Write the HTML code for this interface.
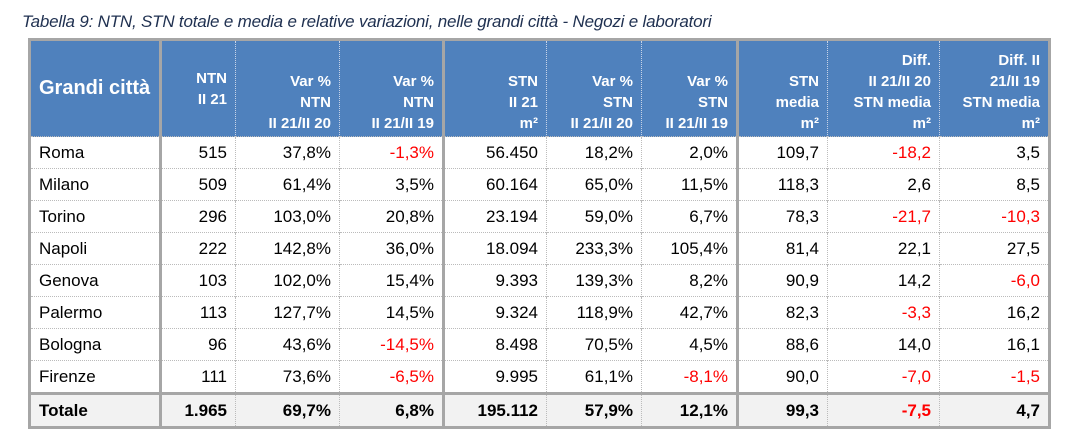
<!DOCTYPE html>
<html><head><meta charset="utf-8"><style>
body{margin:0;width:1078px;height:447px;background:#fff;font-family:"Liberation Sans",sans-serif;overflow:hidden;position:relative}
.t{position:absolute;left:22px;top:12px;font-style:italic;font-size:17px;color:#1f3050;letter-spacing:-0.2px}
table{position:absolute;left:28px;top:38px;border-collapse:collapse;table-layout:fixed;border:3px solid #a6a6a6}
td,th{padding:0 8px 0 4px;text-align:right;font-size:17px;color:#000;white-space:nowrap}
th{background:#4f81bd;color:#fff;font-weight:bold;font-size:15px;line-height:21px;height:93px;border-left:1px dotted #c8d4e8;vertical-align:middle;padding-top:0;padding-bottom:0}
th.b{vertical-align:bottom;padding-bottom:2px}
td{height:31px;border-left:1px dotted #bbb;border-top:1px dotted #bbb}
td:first-child,th:first-child{text-align:left;padding-left:8px;border-left:none}
th:first-child{font-size:20px}
.k{border-left:3px solid #a6a6a6!important}
.r{color:#f00}
tr.tot td{background:#f2f2f2;font-weight:bold;border-top:3px solid #a6a6a6;height:31px}
</style></head><body>
<div class="t">Tabella 9: NTN, STN totale e media e relative variazioni, nelle grandi città - Negozi e laboratori</div>
<table>
<colgroup><col style="width:131px"><col style="width:75px"><col style="width:104px"><col style="width:104px"><col style="width:103px"><col style="width:95px"><col style="width:96px"><col style="width:90px"><col style="width:112px"><col style="width:110px"></colgroup>
<tr><th>Grandi città</th><th class="k">NTN<br>II 21</th><th class="b">Var %<br>NTN<br>II 21/II 20</th><th class="b">Var %<br>NTN<br>II 21/II 19</th><th class="k b">STN<br>II 21<br>m²</th><th class="b">Var %<br>STN<br>II 21/II 20</th><th class="b">Var %<br>STN<br>II 21/II 19</th><th class="k b">STN<br>media<br>m²</th><th class="b">Diff.<br>II 21/II 20<br>STN media<br>m²</th><th class="b">Diff. II<br>21/II 19<br>STN media<br>m²</th></tr>
<tr><td>Roma</td><td class="k">515</td><td>37,8%</td><td class="r">-1,3%</td><td class="k">56.450</td><td>18,2%</td><td>2,0%</td><td class="k">109,7</td><td class="r">-18,2</td><td>3,5</td></tr>
<tr><td>Milano</td><td class="k">509</td><td>61,4%</td><td>3,5%</td><td class="k">60.164</td><td>65,0%</td><td>11,5%</td><td class="k">118,3</td><td>2,6</td><td>8,5</td></tr>
<tr><td>Torino</td><td class="k">296</td><td>103,0%</td><td>20,8%</td><td class="k">23.194</td><td>59,0%</td><td>6,7%</td><td class="k">78,3</td><td class="r">-21,7</td><td class="r">-10,3</td></tr>
<tr><td>Napoli</td><td class="k">222</td><td>142,8%</td><td>36,0%</td><td class="k">18.094</td><td>233,3%</td><td>105,4%</td><td class="k">81,4</td><td>22,1</td><td>27,5</td></tr>
<tr><td>Genova</td><td class="k">103</td><td>102,0%</td><td>15,4%</td><td class="k">9.393</td><td>139,3%</td><td>8,2%</td><td class="k">90,9</td><td>14,2</td><td class="r">-6,0</td></tr>
<tr><td>Palermo</td><td class="k">113</td><td>127,7%</td><td>14,5%</td><td class="k">9.324</td><td>118,9%</td><td>42,7%</td><td class="k">82,3</td><td class="r">-3,3</td><td>16,2</td></tr>
<tr><td>Bologna</td><td class="k">96</td><td>43,6%</td><td class="r">-14,5%</td><td class="k">8.498</td><td>70,5%</td><td>4,5%</td><td class="k">88,6</td><td>14,0</td><td>16,1</td></tr>
<tr><td>Firenze</td><td class="k">111</td><td>73,6%</td><td class="r">-6,5%</td><td class="k">9.995</td><td>61,1%</td><td class="r">-8,1%</td><td class="k">90,0</td><td class="r">-7,0</td><td class="r">-1,5</td></tr>
<tr class="tot"><td>Totale</td><td class="k">1.965</td><td>69,7%</td><td>6,8%</td><td class="k">195.112</td><td>57,9%</td><td>12,1%</td><td class="k">99,3</td><td class="r">-7,5</td><td>4,7</td></tr>
</table>
</body></html>
